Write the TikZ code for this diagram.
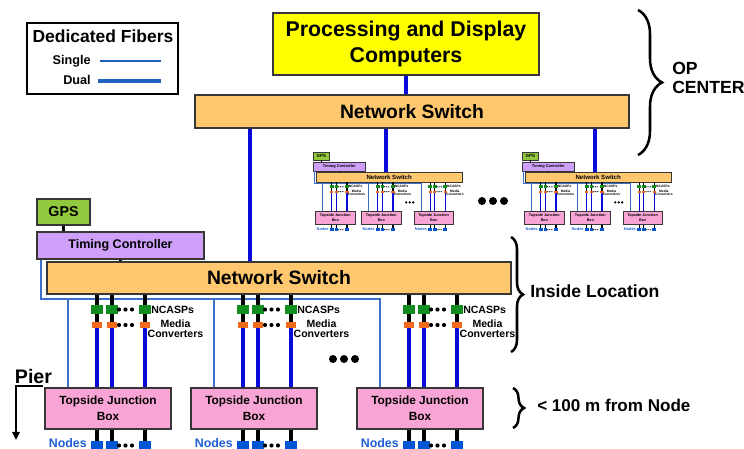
\documentclass[tikz,border=0pt]{standalone}
\usepackage{fontspec}
\setmainfont{Liberation Sans}
\usetikzlibrary{arrows.meta,decorations.pathreplacing}

% palette
\definecolor{swfill}{RGB}{255,200,110}
\definecolor{pdcfill}{RGB}{255,255,0}
\definecolor{tjbfill}{RGB}{248,165,213}
\definecolor{tcfill}{RGB}{207,160,250}
\definecolor{gpsfill}{RGB}{146,200,62}
\definecolor{ncgreen}{RGB}{17,140,30}
\definecolor{mcorange}{RGB}{242,107,29}
\definecolor{nodeblue}{RGB}{0,85,212}
\definecolor{nodetext}{RGB}{31,95,216}
\definecolor{dualblue}{RGB}{10,10,216}
\definecolor{singleblue}{RGB}{58,112,200}
\definecolor{legblue}{RGB}{31,96,190}
\definecolor{boxline}{RGB}{55,55,55}

% one pixel of the drawing grid
\newcommand\px{0.75pt}
% line widths (redefined inside the reduced copies)
\newcommand\lwbox{0.9pt}
\newcommand\lwdual{2.3pt}
\newcommand\lwblk{2.3pt}
\newcommand\lwsingle{1.1pt}

\tikzset{
  boxbase/.style={draw=boxline, line width=\lwbox, inner sep=0pt, align=center},
  gpsbox/.style={boxbase, fill=gpsfill, minimum width=53*\px, minimum height=26*\px,
    font=\bfseries\fontsize{10.7}{12}\selectfont},
  tcbox/.style={boxbase, fill=tcfill, minimum width=167*\px, minimum height=27*\px,
    font=\bfseries\fontsize{9.4}{11}\selectfont},
  swbox/.style={boxbase, fill=swfill, font=\bfseries\fontsize{14.5}{16}\selectfont},
  pdcbox/.style={boxbase, fill=pdcfill, minimum width=266*\px, minimum height=62*\px,
    font=\bfseries\fontsize{16}{19.5}\selectfont},
  tjbbox/.style={boxbase, fill=tjbfill, minimum width=126*\px, minimum height=41*\px,
    font=\bfseries\fontsize{8.9}{12}\selectfont},
  gsq/.style={fill=ncgreen, inner sep=0pt, minimum width=12*\px, minimum height=9*\px},
  osq/.style={fill=mcorange, inner sep=0pt, minimum width=10*\px, minimum height=6*\px},
  nsq/.style={fill=nodeblue, inner sep=0pt, minimum width=12*\px, minimum height=9*\px},
  smalllbl/.style={inner sep=0pt, align=center, font=\bfseries\fontsize{7.9}{7.2}\selectfont},
  nodeslbl/.style={inner sep=0pt, text=nodetext, font=\bfseries\fontsize{9.3}{11}\selectfont},
  biglbl/.style={inner sep=0pt, align=left, font=\bfseries\fontsize{13.2}{14.3}\selectfont},
  dual/.style={draw=dualblue, line width=\lwdual},
  blk/.style={draw=black, line width=\lwblk},
  single/.style={draw=singleblue, line width=\lwsingle},
  curly/.style={draw=black, line width=1.9pt, decorate,
    decoration={brace, amplitude=#1}},
}

% switch, timing, junction boxes and nodes of one location
\newcommand\lowersys[1]{%
  \node[gpsbox] (#1gps) at (63.5,212) {GPS};
  \node[tcbox] (#1tc) at (120.5,245.5) {Timing Controller};
  \node[swbox, minimum width=464*\px, minimum height=32*\px] (#1sw) at (279,278) {Network Switch};
  \coordinate (#1s0) at (41,299);
  \foreach \L [count=\gi] in {45,191,357}{
    \node[tjbbox] (#1t\gi) at (\L+63,408.5) {Topside Junction\\Box};
    \coordinate (#1d\gi) at (\L+23,299);
    \foreach \d [count=\ci] in {52,67,100}{
      \node[gsq] (#1g\gi\ci) at (\L+\d,309.5) {};
      \node[osq] (#1o\gi\ci) at (\L+\d,325) {};
      \node[nsq] (#1n\gi\ci) at (\L+\d,445.5) {};
    }
    \node[smalllbl, anchor=mid west] (#1nc\gi) at (\L+106,309.5) {NCASPs};
    \node[smalllbl] (#1mc\gi) at (\L+130.5,328.5) {Media\\Converters};
    \node[nodeslbl, anchor=mid east] (#1nl\gi) at (\L+42,444) {Nodes};
  }
  % single fibres
  \draw[single] (#1s0 |- #1tc.south) -- (#1s0) -- (#1d3) -- (#1d3 |- #1t3.north);
  \draw[single] (#1d1) -- (#1d1 |- #1t1.north);
  \draw[single] (#1d2) -- (#1d2 |- #1t2.north);
  % timing links
  \draw[blk] (#1gps.south) -- (#1gps.south |- #1tc.north);
  \draw[blk] (#1tc.south) -- (#1tc.south |- #1sw.north);
  % NCASP / media converter chains
  \foreach \gi in {1,2,3}{
    \foreach \ci in {1,2,3}{
      \draw[blk] (#1g\gi\ci.north |- #1sw.south) -- (#1g\gi\ci.north);
      \draw[blk] (#1g\gi\ci.south) -- (#1o\gi\ci.north);
      \draw[dual] (#1o\gi\ci.south) -- (#1o\gi\ci.south |- #1t\gi.north);
      \draw[blk] (#1o\gi\ci.south |- #1t\gi.south) -- (#1n\gi\ci.north);
    }
  }
  \foreach \L in {45,191,357}{
    \foreach \yy in {309.5,325,445.5}{
      \foreach \dx in {74,80.5,87}{ \fill (\L+\dx,\yy) circle[radius=2.1]; }
    }
  }
  \foreach \xx in {333,344,355}{ \fill (\xx,359) circle[radius=4]; }
}

\begin{document}
\begin{tikzpicture}[x=0.75pt,y=-0.75pt]
\useasboundingbox (0,0) rectangle (744,449);

% legend
\node[draw=black, line width=1.1pt, inner sep=0pt, minimum width=151*\px, minimum height=71*\px] (legend) at (102.5,58.5) {};
\node[inner sep=0pt, font=\bfseries\fontsize{13.1}{15}\selectfont] (legtitle) at (103,36) {Dedicated Fibers};
\node[inner sep=0pt, anchor=mid east, font=\bfseries\fontsize{9.5}{11}\selectfont] (legsingle) at (91,61) {Single};
\node[inner sep=0pt, anchor=mid east, font=\bfseries\fontsize{9.5}{11}\selectfont] (legdual) at (91,81) {Dual};
\coordinate (ls1) at (100,61); \coordinate (ls2) at (161,61);
\coordinate (ld1) at (98,81);  \coordinate (ld2) at (161,81);
\draw[draw=legblue, line width=1pt] (ls1) -- (ls2);
\draw[draw=legblue, line width=2.3pt] (ld1) -- (ld2);

% operations centre
\node[pdcbox] (pdc) at (406,44) {Processing and Display\\Computers};
\node[swbox, minimum width=434*\px, minimum height=33*\px] (topsw) at (412,111.5) {Network Switch};
\draw[dual] (pdc.south) -- (pdc.south |- topsw.north);

% location shown in full
\lowersys{}

% two further locations, reduced
\begin{scope}[shift={(301.3,89.3)}, scale=0.315, transform shape]
  \def\lwbox{0.35pt}\def\lwdual{0.8pt}\def\lwblk{0.8pt}\def\lwsingle{0.45pt}
  \lowersys{ma}
\end{scope}
\begin{scope}[shift={(510.3,89.3)}, scale=0.315, transform shape]
  \def\lwbox{0.35pt}\def\lwdual{0.8pt}\def\lwblk{0.8pt}\def\lwsingle{0.45pt}
  \lowersys{mb}
\end{scope}
\foreach \xx in {482,493,504}{ \fill (\xx,201) circle[radius=4]; }

% uplinks from the operations centre switch
\coordinate (upA) at (250,0);
\coordinate (upB) at (386,0);
\coordinate (upC) at (595,0);
\draw[dual] (upA |- topsw.south) -- (upA |- sw.north);
\draw[dual] (upB |- topsw.south) -- (upB |- masw.north);
\draw[dual] (upC |- topsw.south) -- (upC |- mbsw.north);

% pier direction
\node[inner sep=0pt, font=\bfseries\fontsize{14.7}{16}\selectfont] (pier) at (33.5,376) {Pier};
\coordinate (pa) at (43,386);
\coordinate (pb) at (16,386);
\coordinate (pc) at (16,440);
\draw[line width=1.6pt, -{Triangle[length=6pt,width=5.5pt]}] (pa) -- (pb) -- (pc);

% braces and their labels
\coordinate (bo1) at (638,10);  \coordinate (bo2) at (638,155);
\coordinate (bi1) at (511,237); \coordinate (bi2) at (511,352);
\coordinate (bn1) at (513,388); \coordinate (bn2) at (513,428);
\draw[curly=24*\px] (bo1) -- (bo2);
\draw[curly=12*\px] (bi1) -- (bi2);
\draw[curly=11*\px] (bn1) -- (bn2);
\node[biglbl, anchor=west] (opc) at (672,78) {OP\\CENTER};
\node[biglbl, anchor=mid west] (inloc) at (530,294) {Inside Location};
\node[biglbl, anchor=mid west, font=\bfseries\fontsize{12.8}{14}\selectfont] (near) at (537,408) {< 100 m from Node};
\end{tikzpicture}
\end{document}
